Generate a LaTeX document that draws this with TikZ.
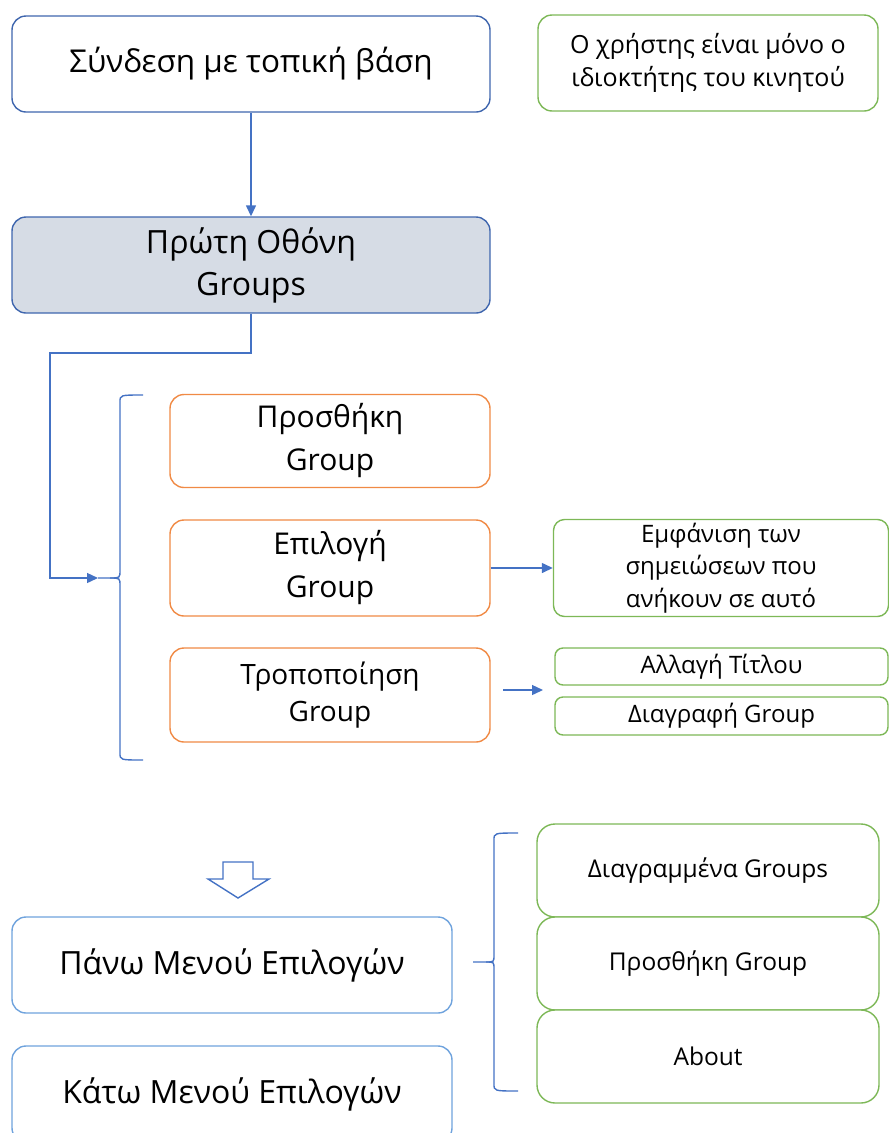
\documentclass[tikz,border=0pt]{standalone}
\usepackage{fontspec}
\setmainfont{Open Sans}
\usetikzlibrary{arrows.meta}
\definecolor{navy}{HTML}{3F66AE}
\definecolor{linkblue}{HTML}{4472C4}
\definecolor{skyline}{HTML}{6FA3DD}
\definecolor{orangeln}{HTML}{F08A45}
\definecolor{greenln}{HTML}{7DB857}
\definecolor{paleblue}{HTML}{D6DCE5}
\tikzset{
  box/.style={draw, rounded corners=14pt, line width=1.4pt, align=center, inner sep=0pt, fill=white},
  topbox/.style={box, draw=navy},
  optbox/.style={box, draw=orangeln},
  leafbox/.style={box, draw=greenln, rounded corners=11pt},
  menubox/.style={box, draw=skyline},
  conn/.style={draw=linkblue, line width=1.4pt},
  tip/.style={-{Triangle[length=11pt,width=10pt]}},
  brace/.style={draw=linkblue, line width=1.4pt}
}
\begin{document}
\begin{tikzpicture}[x=1pt,y=-1pt]
\useasboundingbox (0,0) rectangle (889,1133);

% top row
\node[topbox, minimum width=478pt, minimum height=96pt, font=\fontsize{31.5}{40}\selectfont] (login) at (251,64) {Σύνδεση με τοπική βάση};
\node[leafbox, rounded corners=14pt, minimum width=340pt, minimum height=96pt, font=\fontsize{25}{33}\selectfont] (note) at (708,63) {Ο χρήστης είναι μόνο ο\\ιδιοκτήτης του κινητού};

% first screen
\node[topbox, fill=paleblue, minimum width=478pt, minimum height=96pt, font=\fontsize{32}{42}\selectfont] (first) at (251,265) {Πρώτη Οθόνη\\Groups};
\draw[conn, tip] (login.south) -- (first.north);

% group actions
\node[optbox, minimum width=320pt, minimum height=93pt, font=\fontsize{30}{43}\selectfont] (add) at (330,441) {Προσθήκη\\Group};
\node[optbox, minimum width=320pt, minimum height=96pt, font=\fontsize{30}{43}\selectfont] (select) at (330,568) {Επιλογή\\Group};
\node[optbox, minimum width=320pt, minimum height=94pt, font=\fontsize{28}{37}\selectfont] (edit) at (330,695) {Τροποποίηση\\Group};

% brace grouping the actions
\coordinate (lb) at (98,578);
\coordinate (elbow) at (50,353);
\draw[brace] (143,395) .. controls (120,395) .. (120,402) -- (120,570)
  .. controls (120,578) .. (110,578) -- (lb);
\draw[brace] (110,578) .. controls (120,578) .. (120,586) -- (120,753)
  .. controls (120,760) .. (143,760);
\draw[conn, tip] (first.south) |- (elbow) |- (lb);

% results of selecting / editing
\node[leafbox, minimum width=335pt, minimum height=97pt, font=\fontsize{24}{32.5}\selectfont] (show) at (721,568) {Εμφάνιση των\\σημειώσεων που\\ανήκουν σε αυτό};
\draw[conn, tip] (select.east |- show.west) -- (show.west);

\node[leafbox, rounded corners=8pt, minimum width=333pt, minimum height=37pt, font=\fontsize{24}{26}\selectfont] (rename) at (721.5,666.5) {Αλλαγή Τίτλου};
\node[leafbox, rounded corners=8pt, minimum width=333pt, minimum height=38pt, font=\fontsize{24}{26}\selectfont] (delete) at (721.5,716) {Διαγραφή Group};
\coordinate (ea) at (503,690);
\coordinate (eb) at (543,690);
\draw[conn, tip] (ea) -- (eb);

% hollow arrow towards the menus
\draw[draw=linkblue, line width=1.4pt, line join=miter]
  (223,862) -- (253,862) -- (253,879) -- (269,879) -- (238,898) -- (208,879) -- (223,879) -- cycle;

% menus
\node[menubox, minimum width=440pt, minimum height=96pt, font=\fontsize{32}{40}\selectfont] (upper) at (232,965) {Πάνω Μενού Επιλογών};
\node[menubox, minimum width=440pt, minimum height=96pt, font=\fontsize{32}{40}\selectfont] (lower) at (232,1094) {Κάτω Μενού Επιλογών};

% upper menu entries
\node[leafbox, rounded corners=18pt, minimum width=342pt, minimum height=93pt, font=\fontsize{24.5}{26}\selectfont] (deleted) at (708,870.5) {Διαγραμμένα Groups};
\node[leafbox, rounded corners=18pt, minimum width=342pt, minimum height=93pt, font=\fontsize{24.5}{26}\selectfont] (newgrp) at (708,963.5) {Προσθήκη Group};
\node[leafbox, rounded corners=18pt, minimum width=342pt, minimum height=93pt, font=\fontsize{24.5}{26}\selectfont] (about) at (708,1056.5) {About};

% brace of the upper menu
\coordinate (rb) at (473,962);
\draw[brace] (518,833) .. controls (494,833) .. (494,840) -- (494,955)
  .. controls (494,962) .. (486,962) -- (rb);
\draw[brace] (486,962) .. controls (494,962) .. (494,969) -- (494,1084)
  .. controls (494,1091) .. (518,1091);
\end{tikzpicture}
\end{document}
